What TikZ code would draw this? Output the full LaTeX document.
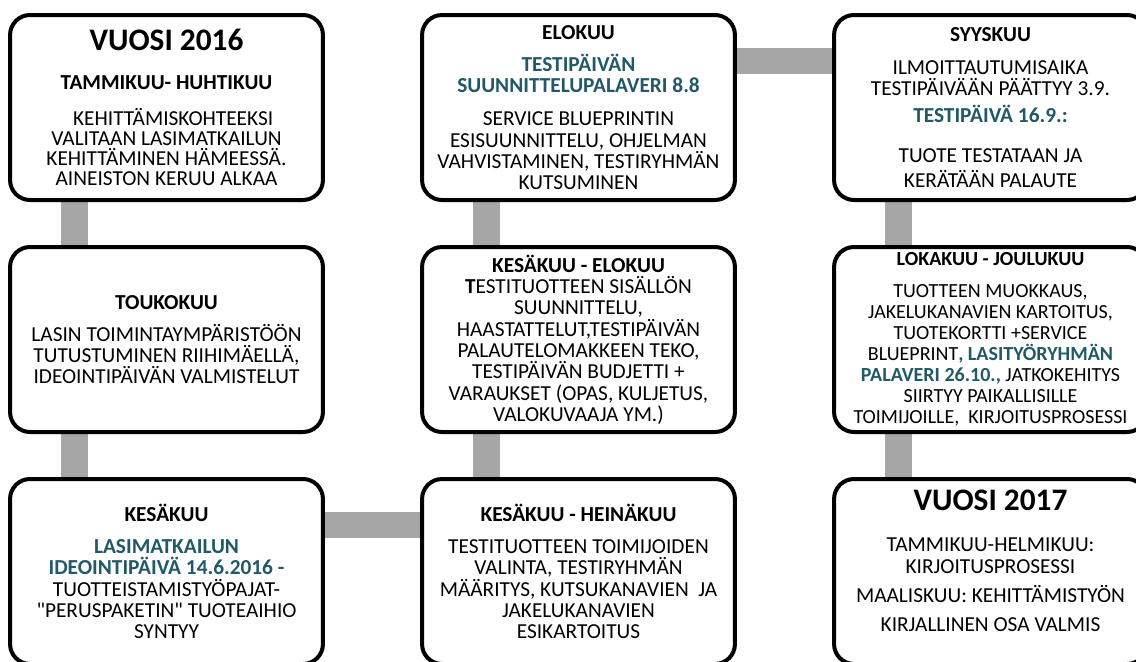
\documentclass[tikz,border=0pt]{standalone}
\usepackage{fontspec}
\setmainfont{Carlito}[Ligatures=TeXOff]
\usepackage{tikz}
\usetikzlibrary{backgrounds}

\definecolor{tealtext}{RGB}{33,89,104}
\definecolor{linkgray}{RGB}{166,166,166}

\newcommand{\yearhead}[1]{{\fontsize{23.5}{23}\selectfont\bfseries #1}}
\newcommand{\monthhead}[1]{{\fontsize{16}{16}\selectfont\bfseries #1}}
\newcommand{\tealbold}[1]{{\color{tealtext}\bfseries #1}}

\begin{document}
\begin{tikzpicture}[x=0.75pt,y=-0.75pt,node distance=174pt]
			\tikzstyle{phase} = [draw=black, line width=3pt, rounded corners=15pt, fill=white, minimum width=231.75pt, minimum height=138.75pt, text width=228pt, align=flush center, font=\fontsize{16}{16}\selectfont]
			\tikzstyle{link} = [draw=linkgray, line width=20pt]

			\useasboundingbox (0,0) rectangle (1136,661);
			\clip (0,0) rectangle (1136,661);

			\node [phase, font=\fontsize{16}{15}\selectfont] (v16) at (166.5,107.5) {\yearhead{VUOSI 2016}\\[14pt]
				\monthhead{TAMMIKUU- HUHTIKUU}\\[12pt]
				\hspace*{10pt}KEHITTÄMISKOHTEEKSI\\ VALITAAN LASIMATKAILUN\\ KEHITTÄMINEN HÄMEESSÄ.\\ AINEISTON KERUU ALKAA};

			\node [phase, below of=v16] (touko) {\monthhead{TOUKOKUU}\\[8pt]
				LASIN TOIMINTAYMPÄRISTÖÖN\\ TUTUSTUMINEN RIIHIMÄELLÄ,\\ IDEOINTIPÄIVÄN VALMISTELUT};

			\node [phase, below of=touko] (kesa) {\monthhead{KESÄKUU}\\[8pt]
				\tealbold{LASIMATKAILUN}\\ \tealbold{IDEOINTIPÄIVÄ 14.6.2016 -}\\
				TUOTTEISTAMISTYÖPAJAT-\\ "PERUSPAKETIN" TUOTEAIHIO\\ SYNTYY};

			\node [phase, right of=kesa, xshift=135pt] (heina) {\monthhead{KESÄKUU - HEINÄKUU}\\[8pt]
				TESTITUOTTEEN TOIMIJOIDEN\\ VALINTA, TESTIRYHMÄN\\ MÄÄRITYS, KUTSUKANAVIEN\ \ JA\\ JAKELUKANAVIEN\\ ESIKARTOITUS};

			\node [phase, above of=heina] (kesaelo) {\monthhead{KESÄKUU - ELOKUU}\\
				\textbf{T}ESTITUOTTEEN SISÄLLÖN\\ SUUNNITTELU,\\ HAASTATTELUT,TESTIPÄIVÄN\\ PALAUTELOMAKKEEN TEKO,\\ TESTIPÄIVÄN BUDJETTI +\\ VARAUKSET (OPAS, KULJETUS,\\ VALOKUVAAJA YM.)};

			\node [phase, above of=kesaelo] (elo) {\monthhead{ELOKUU}\\[8pt]
				\tealbold{TESTIPÄIVÄN}\\ \tealbold{SUUNNITTELUPALAVERI 8.8}\\[9pt]
				SERVICE BLUEPRINTIN\\ ESISUUNNITTELU, OHJELMAN\\ VAHVISTAMINEN, TESTIRYHMÄN\\ KUTSUMINEN};

			\node [phase, right of=elo, xshift=135pt] (syys) {\monthhead{SYYSKUU}\\[9pt]
				ILMOITTAUTUMISAIKA\\ TESTIPÄIVÄÄN PÄÄTTYY 3.9.\\[4pt]
				\tealbold{TESTIPÄIVÄ 16.9.:}\\[14pt]
				TUOTE TESTATAAN JA\\[3pt] KERÄTÄÄN PALAUTE};

			\node [phase, below of=syys, font=\fontsize{15}{15.75}\selectfont] (loka) {{\fontsize{15}{16}\selectfont\bfseries LOKAKUU - JOULUKUU}\\[8pt]
				TUOTTEEN MUOKKAUS,\\ JAKELUKANAVIEN KARTOITUS,\\ TUOTEKORTTI +SERVICE\\ BLUEPRINT\tealbold{, LASITYÖRYHMÄN}\\ \tealbold{PALAVERI 26.10.,} JATKOKEHITYS\\ SIIRTYY PAIKALLISILLE\\ TOIMIJOILLE,\ \ KIRJOITUSPROSESSI};

			\node [phase, below of=loka] (v17) {\yearhead{VUOSI 2017}\\[15pt]
				TAMMIKUU-HELMIKUU:\\ KIRJOITUSPROSESSI\\[6pt]
				MAALISKUU: KEHITTÄMISTYÖN\\[6pt] KIRJALLINEN OSA VALMIS\\[0pt]\mbox{}};

			\begin{scope}[on background layer]
				\draw [link] ([xshift=-69pt]v16.south) -- ([xshift=-69pt]touko.north);
				\draw [link] ([xshift=-69pt]touko.south) -- ([xshift=-69pt]kesa.north);
				\draw [link] ([yshift=35pt]kesa.east) -- ([yshift=35pt]heina.west);
				\draw [link] ([xshift=-69pt]heina.north) -- ([xshift=-69pt]kesaelo.south);
				\draw [link] ([xshift=-69pt]kesaelo.north) -- ([xshift=-69pt]elo.south);
				\draw [link] ([yshift=35pt]elo.east) -- ([yshift=35pt]syys.west);
				\draw [link] ([xshift=-69pt]syys.south) -- ([xshift=-69pt]loka.north);
				\draw [link] ([xshift=-69pt]loka.south) -- ([xshift=-69pt]v17.north);
			\end{scope}
		\end{tikzpicture}
\end{document}
